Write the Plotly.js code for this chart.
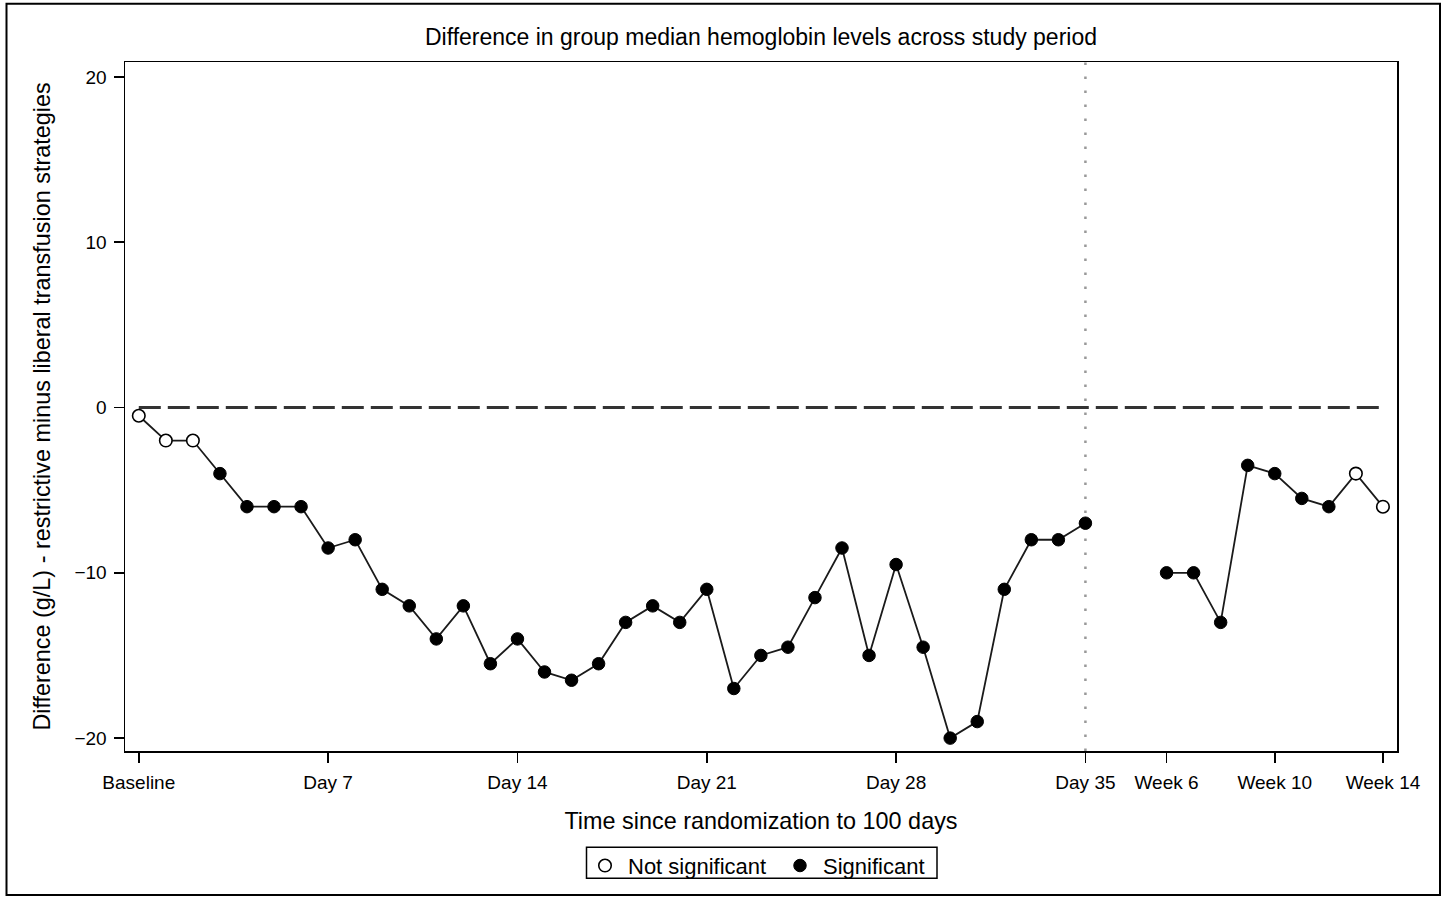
<!DOCTYPE html>
<html>
<head>
<meta charset="utf-8">
<script src="https://cdn.plot.ly/plotly-3.0.1.min.js"></script>
<style>
  html, body { margin: 0; padding: 0; background: #fff; width: 1447px; height: 899px; overflow: hidden; }
  #chart { position: absolute; top: 0; left: 0; width: 1447px; height: 899px; overflow: hidden; }
</style>
</head>
<body>
<div id="chart"></div>
<script>
// ---- Data ----
// Position on the time axis (0 = Baseline, 1..35 = Day 1..35, 38..46 = Week 6..14)
const timeIndex = [0,1,2,3,4,5,6,7,8,9,10,11,12,13,14,15,16,17,18,19,20,21,22,23,24,25,26,27,28,29,30,31,32,33,34,35,
                   38,39,40,41,42,43,44,45,46];
// Difference in group median hemoglobin (g/L), restrictive minus liberal
const diffMedian = [-0.5,-2,-2,-4,-6,-6,-6,-8.5,-8,-11,-12,-14,-12,-15.5,-14,-16,-16.5,-15.5,-13,-12,-13,-11,
                    -17,-15,-14.5,-11.5,-8.5,-15,-9.5,-14.5,-20,-19,-11,-8,-8,-7,
                    -10,-10,-13,-3.5,-4,-5.5,-6,-4,-6];
// Significance flag for each point
const isSignificant = [false,false,false,true,true,true,true,true,true,true,true,true,true,true,true,true,true,true,
                       true,true,true,true,true,true,true,true,true,true,true,true,true,true,true,true,true,true,
                       true,true,true,true,true,true,true,false,false];
// Axis ticks
const tickPositions = [0,7,14,21,28,35,38,42,46];
const tickLabels = ["Baseline","Day 7","Day 14","Day 21","Day 28","Day 35","Week 6","Week 10","Week 14"];
const yTickValues = [-20,-10,0,10,20];
const referenceLineAt = 0;      // horizontal no-difference line
const dividerAt = 35;           // vertical divider between daily and weekly measures

// ---- Build traces ----
const lineX = [], lineY = [];
for (let i = 0; i < timeIndex.length; i++) {
  if (i > 0 && timeIndex[i] - timeIndex[i-1] > 1) { lineX.push(null); lineY.push(null); }
  lineX.push(timeIndex[i]); lineY.push(diffMedian[i]);
}
const nsX = [], nsY = [], sX = [], sY = [];
timeIndex.forEach((t, i) => {
  if (isSignificant[i]) { sX.push(t); sY.push(diffMedian[i]); }
  else { nsX.push(t); nsY.push(diffMedian[i]); }
});

const FONT = '"Liberation Sans", Arial, Helvetica, sans-serif';

const traces = [
  { x: lineX, y: lineY, type: 'scatter', mode: 'lines', connectgaps: false,
    line: { color: '#1a1a1a', width: 1.8 }, showlegend: false, hoverinfo: 'skip' },
  { x: nsX, y: nsY, type: 'scatter', mode: 'markers', name: 'Not significant',
    marker: { symbol: 'circle', size: 12.5, color: '#ffffff', line: { color: '#000', width: 1.6 } } },
  { x: sX, y: sY, type: 'scatter', mode: 'markers', name: 'Significant',
    marker: { symbol: 'circle', size: 12.5, color: '#000000', line: { color: '#000', width: 1 } } }
];

// pixel helpers for frame placement
const W = 1447, H = 899, ML = 125, MR = 50, MT = 62, MB = 146;
const PW = W - ML - MR, PH = H - MT - MB;
const px = v => (v - ML) / PW;
const py = v => (H - MB - v) / PH;

const layout = {
  width: W, height: H, autosize: false,
  margin: { l: ML, r: MR, t: MT, b: MB, pad: 0 },
  paper_bgcolor: '#fff', plot_bgcolor: '#fff',
  font: { family: FONT, color: '#000' },
  title: { text: 'Difference in group median hemoglobin levels across study period',
           font: { size: 23, family: FONT, color: '#000' },
           x: 0.5, xref: 'paper', xanchor: 'center',
           y: 1 - 37 / H, yref: 'container', yanchor: 'middle' },
  xaxis: {
    range: [-0.51, 46.52], tickmode: 'array', tickvals: tickPositions, ticktext: tickLabels,
    showgrid: false, zeroline: false, showline: true, linecolor: '#000', linewidth: 1.5, mirror: true,
    ticks: 'outside', ticklen: 10, tickwidth: 1.5, tickcolor: '#000', ticklabelstandoff: 4,
    tickfont: { size: 19, family: FONT, color: '#000' },
    title: { text: 'Time since randomization to 100 days', font: { size: 23.4, family: FONT, color: '#000' }, standoff: 20 }
  },
  yaxis: {
    range: [-20.78, 20.9], tickmode: 'array', tickvals: yTickValues,
    showgrid: false, zeroline: false, showline: true, linecolor: '#000', linewidth: 1.5, mirror: true,
    ticks: 'outside', ticklen: 10, tickwidth: 1.5, tickcolor: '#000', ticklabelstandoff: 3,
    tickfont: { size: 19, family: FONT, color: '#000' },
    title: { text: 'Difference (g/L) - restrictive minus liberal transfusion strategies',
             font: { size: 23.4, family: FONT, color: '#000' }, standoff: 17 }
  },
  showlegend: true,
  legend: {
    orientation: 'h', x: px(582), xanchor: 'left', y: py(847), yanchor: 'top',
    borderwidth: 0, bgcolor: 'rgba(0,0,0,0)', itemwidth: 36,
    entrywidth: 144, entrywidthmode: 'pixels',
    font: { size: 22, family: FONT, color: '#000' }, itemsizing: 'trace'
  },
  shapes: [
    { type: 'line', xref: 'x', yref: 'y', x0: timeIndex[0], x1: timeIndex[timeIndex.length - 1],
      y0: referenceLineAt, y1: referenceLineAt, line: { color: '#333', width: 3, dash: '22px,7px' }, layer: 'below' },
    { type: 'line', xref: 'x', yref: 'paper', x0: dividerAt, x1: dividerAt, y0: 0, y1: 1,
      line: { color: '#999', width: 2.5, dash: '2.5px,11.5px' }, layer: 'below' },
    // legend box
    { type: 'rect', xref: 'paper', yref: 'paper', x0: px(586.5), x1: px(937), y0: py(880.5), y1: py(849.5),
      line: { color: '#000', width: 1.5 }, fillcolor: 'rgba(0,0,0,0)', layer: 'above' },
    // outer frame
    { type: 'rect', xref: 'paper', yref: 'paper', x0: px(6.5), x1: px(1440), y0: py(897.5), y1: py(3.5),
      line: { color: '#000', width: 2 }, fillcolor: 'rgba(0,0,0,0)', layer: 'below' }
  ]
};

Plotly.newPlot('chart', traces, layout, { displayModeBar: false, staticPlot: true });
</script>
</body>
</html>
